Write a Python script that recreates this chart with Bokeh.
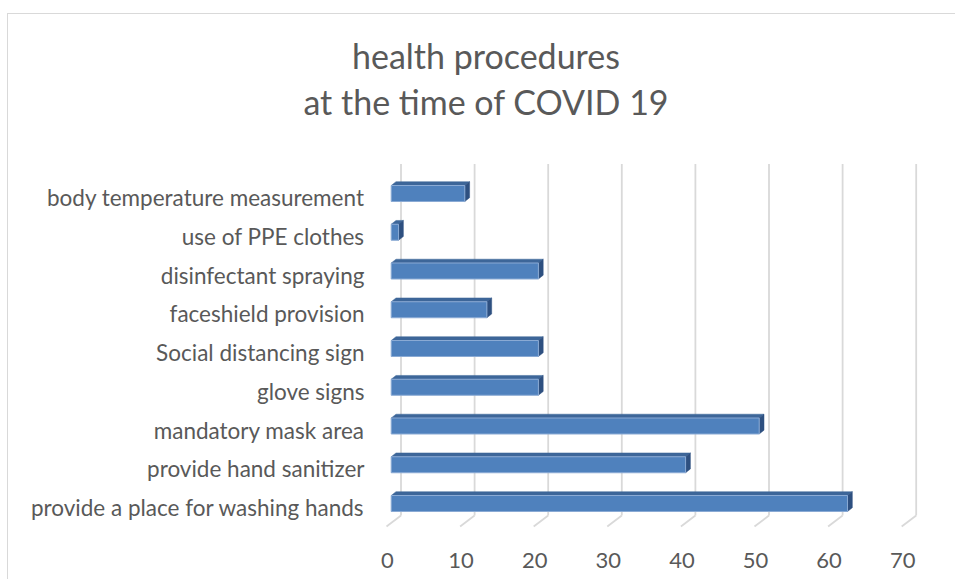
from bokeh.plotting import figure
from bokeh.models import FixedTicker, Range1d, Div
from bokeh.layouts import column
from bokeh.embed import file_html
from bokeh.resources import INLINE

# ---------------- data ----------------
categories = [
    "body temperature measurement",
    "use of PPE clothes",
    "disinfectant spraying",
    "faceshield provision",
    "Social distancing sign",
    "glove signs",
    "mandatory mask area",
    "provide hand sanitizer",
    "provide a place for washing hands",
]
values = [10, 1, 20, 13, 20, 20, 50, 40, 62]
x_ticks = [0, 10, 20, 30, 40, 50, 60, 70]
x_tick_labels = ["0", "10", "20", "30", "40", "50", "60", "70"]
title_lines = ["health procedures", "at the time of COVID 19"]

# ---------------- style / pseudo-3D geometry ----------------
FONT = "Lato"
TXT = "#595959"
GRID = "#d9d9d9"
FRONT = "#4f81bd"
TOPC = "#3d6699"
SIDE = "#2e5080"

CANVAS_X = 8          # page x of the layout (7px margin + 1px border)
TOP_Y = 14            # page y of the layout top
TITLE_H = 126
W = 947
FIG_Y = TOP_Y + TITLE_H
FIG_H = 579 - FIG_Y

PX_X = 7.36     # pixels per value unit
PX_Y = 38.75    # pixels per category step
X0_PAGE = 387.0   # page x of value 0 (front floor edge)
Y0_PAGE = 507.0   # page y of the lowest category (front floor)


def xd(px):
    return (px - X0_PAGE) / PX_X


def yd(py):
    return (Y0_PAGE - py) / PX_Y


bar_x0 = 3.7 / PX_X
bar_half = 8.0 / PX_Y
bar_lift = 4.0 / PX_Y
depth_dx = 4.8 / PX_X
depth_dy = 3.8 / PX_Y
grid_back = 13.5 / PX_X
grid_front = -1.0 / PX_X
grid_top = yd(163.5)
grid_back_bottom = yd(515)
grid_front_bottom = yd(526)

frame_l, frame_r, frame_t, frame_b = 380, 936, 150, 532
ml = frame_l - CANVAS_X
mr = CANVAS_X + W - frame_r
mt = frame_t - FIG_Y
mb = FIG_Y + FIG_H - frame_b

p = figure(width=W, height=FIG_H, output_backend="svg", toolbar_location=None,
           x_range=Range1d(xd(frame_l), xd(frame_r)),
           y_range=Range1d(yd(frame_b), yd(frame_t)),
           min_border_left=ml, min_border_right=mr,
           min_border_top=mt, min_border_bottom=mb)
p.outline_line_color = None
p.background_fill_color = "white"
p.border_fill_color = "white"
p.xgrid.visible = False
p.ygrid.visible = False

n = len(categories)
y_pos = [n - 1 - i for i in range(n)]

# gridlines (back wall + floor diagonals)
gx = [t + grid_back for t in x_ticks]
p.segment(x0=gx, y0=[grid_back_bottom] * len(gx), x1=gx, y1=[grid_top] * len(gx),
          line_color=GRID, line_width=1.8)
p.segment(x0=gx, y0=[grid_back_bottom] * len(gx),
          x1=[t + grid_front for t in x_ticks], y1=[grid_front_bottom] * len(gx),
          line_color=GRID, line_width=1.8)

# bars
yc = [y + bar_lift for y in y_pos]
lefts = [bar_x0] * n
rights = [bar_x0 + v for v in values]
bots = [c - bar_half for c in yc]
tops = [c + bar_half for c in yc]

top_xs = [[l, l + depth_dx, r + depth_dx, r] for l, r in zip(lefts, rights)]
top_ys = [[t, t + depth_dy, t + depth_dy, t] for t in tops]
p.patches(top_xs, top_ys, fill_color=TOPC, line_color=TOPC, line_width=0.5)

side_xs = [[r, r, r + depth_dx, r + depth_dx] for r in rights]
side_ys = [[b, t, t + depth_dy, b + depth_dy] for b, t in zip(bots, tops)]
p.patches(side_xs, side_ys, fill_color=SIDE, line_color=SIDE, line_width=0.5)

p.quad(left=lefts, right=rights, bottom=bots, top=tops,
       fill_color=FRONT, line_color="#8aaad4", line_width=1)

# axes
p.xaxis.ticker = FixedTicker(ticks=x_ticks)
p.xaxis.major_label_overrides = {t: s for t, s in zip(x_ticks, x_tick_labels)}
p.xaxis.axis_line_color = None
p.xaxis.major_tick_line_color = None
p.xaxis.minor_tick_line_color = None
p.xaxis.major_label_text_font = FONT
p.xaxis.major_label_text_font_size = "22px"
p.xaxis.major_label_text_color = TXT
p.xaxis.major_label_standoff = 14

p.yaxis.ticker = FixedTicker(ticks=y_pos)
p.yaxis.major_label_overrides = {y: c for y, c in zip(y_pos, categories)}
p.yaxis.axis_line_color = None
p.yaxis.major_tick_line_color = None
p.yaxis.minor_tick_line_color = None
p.yaxis.major_label_text_font = FONT
p.yaxis.major_label_text_font_size = "22.5px"
p.yaxis.major_label_text_color = TXT
p.yaxis.major_label_standoff = 10

# two-line title as a block above the plot
title_center = 486.5 - CANVAS_X
title_w = 700
title_html = (
    '<div style="width:%dpx;margin-left:%dpx;padding-top:19px;text-align:center;'
    'font-family:Lato;font-size:34px;line-height:46px;color:%s;white-space:nowrap">%s</div>'
    % (title_w, int(round(title_center - title_w / 2)), TXT, "<br>".join(title_lines))
)
title_div = Div(text=title_html, width=W, height=TITLE_H, margin=(0, 0, 0, 0))
p.margin = (0, 0, 0, 0)

layout = column(title_div, p, spacing=0, margin=(0, 0, 0, 0))
layout.styles = {"margin-left": "7px", "margin-top": "13px",
                 "border-left": "1px solid #d9d9d9", "border-top": "1px solid #d9d9d9"}

open("out.html", "w").write(file_html(layout, INLINE))
